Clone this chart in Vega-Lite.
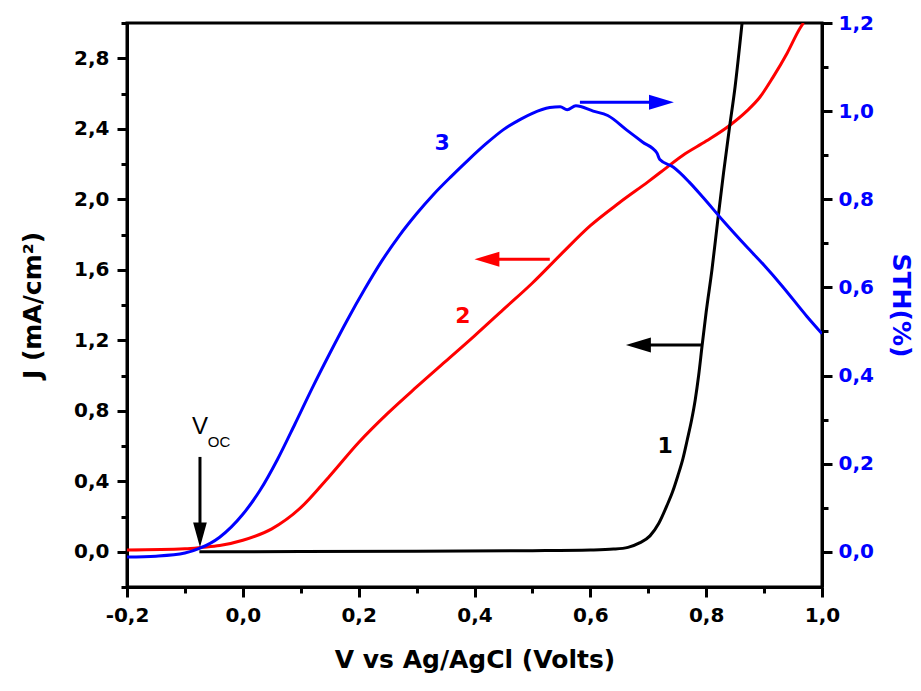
{
  "$schema": "https://vega.github.io/schema/vega-lite/v6.json",
  "autosize": {"type": "none"},
  "width": 695,
  "height": 564,
  "padding": {"left": 127, "top": 23, "right": 99, "bottom": 104},
  "background": "white",
  "config": {
    "view": {"stroke": "black", "strokeWidth": 3},
    "axis": {
      "domainColor": "black", "domainWidth": 3, "tickColor": "black", "tickWidth": 3,
      "grid": false, "labelFont": "DejaVu Sans", "labelFontWeight": "bold", "labelFontSize": 20,
      "titleFont": "DejaVu Sans", "titleFontWeight": "bold", "titleFontSize": 25, "labelColor": "black", "titleColor": "black"
    }
  },
  "datasets": {
    "red": [
      {"V": -0.2, "J": 0.01}, {"V": -0.1, "J": 0.017}, {"V": -0.07, "J": 0.025}, {"V": -0.04, "J": 0.035},
      {"V": 0.0, "J": 0.065}, {"V": 0.05, "J": 0.13}, {"V": 0.1, "J": 0.25}, {"V": 0.15, "J": 0.43},
      {"V": 0.2, "J": 0.62}, {"V": 0.25, "J": 0.785}, {"V": 0.3, "J": 0.935}, {"V": 0.35, "J": 1.08},
      {"V": 0.4, "J": 1.225}, {"V": 0.45, "J": 1.375}, {"V": 0.5, "J": 1.525}, {"V": 0.55, "J": 1.69},
      {"V": 0.6, "J": 1.85}, {"V": 0.65, "J": 1.98},
      {"V": 0.7, "J": 2.1}, {"V": 0.72, "J": 2.15}, {"V": 0.76, "J": 2.25}, {"V": 0.8, "J": 2.33},
      {"V": 0.841, "J": 2.42}, {"V": 0.87, "J": 2.5}, {"V": 0.893, "J": 2.58}, {"V": 0.915, "J": 2.69},
      {"V": 0.94, "J": 2.83}, {"V": 0.962, "J": 2.97}, {"V": 0.968, "J": 3.0}
    ],
    "black": [
      {"V": -0.075, "J": 0}, {"V": 0.1, "J": 0.001}, {"V": 0.3, "J": 0.003}, {"V": 0.5, "J": 0.006},
      {"V": 0.6, "J": 0.01}, {"V": 0.64, "J": 0.015}, {"V": 0.665, "J": 0.025}, {"V": 0.685, "J": 0.05},
      {"V": 0.703, "J": 0.09}, {"V": 0.718, "J": 0.16}, {"V": 0.732, "J": 0.26}, {"V": 0.742, "J": 0.34},
      {"V": 0.751, "J": 0.43}, {"V": 0.76, "J": 0.53}, {"V": 0.767, "J": 0.63}, {"V": 0.775, "J": 0.75},
      {"V": 0.781, "J": 0.86}, {"V": 0.787, "J": 1.0}, {"V": 0.793, "J": 1.17}, {"V": 0.8, "J": 1.36},
      {"V": 0.81, "J": 1.6}, {"V": 0.82, "J": 1.88}, {"V": 0.83, "J": 2.15}, {"V": 0.84, "J": 2.4},
      {"V": 0.85, "J": 2.64}, {"V": 0.862, "J": 3.0}
    ],
    "blue": [
      {"V": -0.2, "S": -0.012}, {"V": -0.15, "S": -0.01}, {"V": -0.1, "S": -0.003}, {"V": -0.074, "S": 0.008},
      {"V": -0.04, "S": 0.033}, {"V": 0.0, "S": 0.085}, {"V": 0.03, "S": 0.14}, {"V": 0.06, "S": 0.21},
      {"V": 0.09, "S": 0.29}, {"V": 0.12, "S": 0.372}, {"V": 0.15, "S": 0.45}, {"V": 0.18, "S": 0.525},
      {"V": 0.21, "S": 0.595}, {"V": 0.24, "S": 0.66}, {"V": 0.27, "S": 0.717}, {"V": 0.3, "S": 0.767},
      {"V": 0.33, "S": 0.812}, {"V": 0.36, "S": 0.852}, {"V": 0.39, "S": 0.89}, {"V": 0.42, "S": 0.926},
      {"V": 0.45, "S": 0.958}, {"V": 0.48, "S": 0.982}, {"V": 0.5, "S": 0.995},
      {"V": 0.53, "S": 1.008}, {"V": 0.548, "S": 1.01}, {"V": 0.56, "S": 1.003}, {"V": 0.575, "S": 1.012},
      {"V": 0.605, "S": 1.0}, {"V": 0.63, "S": 0.99}, {"V": 0.663, "S": 0.957}, {"V": 0.69, "S": 0.93},
      {"V": 0.715, "S": 0.905}, {"V": 0.72, "S": 0.89}, {"V": 0.743, "S": 0.873}, {"V": 0.77, "S": 0.84},
      {"V": 0.794, "S": 0.805}, {"V": 0.83, "S": 0.75}, {"V": 0.87, "S": 0.692}, {"V": 0.9, "S": 0.65},
      {"V": 0.93, "S": 0.605}, {"V": 0.974, "S": 0.534}, {"V": 1.0, "S": 0.495}
    ],
    "arrows": [
      {"curve": "1", "end": "tail", "V": 0.791, "J": 1.173}, {"curve": "1", "end": "head", "V": 0.683, "J": 1.173},
      {"curve": "2", "end": "tail", "V": 0.53, "J": 1.66}, {"curve": "2", "end": "head", "V": 0.4215, "J": 1.66},
      {"curve": "3", "end": "tail", "V": 0.582, "J": 2.55}, {"curve": "3", "end": "head", "V": 0.7228, "J": 2.55},
      {"curve": "Voc", "end": "tail", "V": -0.074, "J": 0.538}, {"curve": "Voc", "end": "head", "V": -0.074, "J": 0.096}
    ],
    "labels": [
      {"curve": "1", "text": "1", "V": 0.729, "J": 0.6},
      {"curve": "2", "text": "2", "V": 0.38, "J": 1.337},
      {"curve": "3", "text": "3", "V": 0.344, "J": 2.32}
    ]
  },
  "layer": [
    {
      "encoding": {
        "x": {
          "field": "V", "type": "quantitative",
          "scale": {"domain": [-0.2, 1.0], "nice": false, "zero": false},
          "axis": {
            "title": "V vs Ag/AgCl (Volts)", "orient": "bottom",
            "values": [-0.2, -0.1, 0, 0.1, 0.2, 0.3, 0.4, 0.5, 0.6, 0.7, 0.8, 0.9, 1.0],
            "format": ".1f",
            "labelExpr": "round(datum.value*10)%2==0 ? replace(replace(datum.label,'.',','),'\u2212','-') : ''",
            "tickSize": {"condition": {"test": "round(datum.value*10)%2==0", "value": 10}, "value": 6},
            "labelPadding": 8, "titlePadding": 22, "labelFlush": false, "labelOverlap": false
          }
        },
        "y": {
          "field": "J", "type": "quantitative",
          "scale": {"domain": [-0.2, 3.0], "nice": false, "zero": false},
          "axis": {
            "title": "J (mA/cm\u00b2)", "orient": "left",
            "values": [-0.2, 0, 0.2, 0.4, 0.6, 0.8, 1.0, 1.2, 1.4, 1.6, 1.8, 2.0, 2.2, 2.4, 2.6, 2.8, 3.0],
            "format": ".1f",
            "labelExpr": "round(datum.value*10)%4==0 ? replace(datum.label,'.',',') : ''",
            "tickSize": {"condition": {"test": "round(datum.value*10)%4==0", "value": 10}, "value": 6},
            "labelPadding": 8, "titlePadding": 28, "labelOverlap": false, "labelFlush": false
          }
        }
      },
      "layer": [
        {"data": {"name": "red"}, "mark": {"type": "line", "color": "#ff0000", "strokeWidth": 3, "clip": true, "interpolate": "monotone"}},
        {"data": {"name": "black"}, "mark": {"type": "line", "color": "#000000", "strokeWidth": 3, "clip": true, "interpolate": "monotone"}},
        {
          "data": {"name": "arrows"},
          "mark": {"type": "line", "strokeWidth": 3},
          "encoding": {
            "detail": {"field": "curve"},
            "color": {"field": "curve", "scale": {"domain": ["1", "2", "3", "Voc"], "range": ["#000000", "#ff0000", "#0000ff", "#000000"]}, "legend": null}
          }
        },
        {
          "data": {"name": "arrows"},
          "transform": [{"filter": "datum.end == 'head'"}],
          "mark": {"type": "point", "filled": true, "size": 620, "opacity": 1, "strokeWidth": 0},
          "encoding": {
            "color": {"field": "curve", "scale": {"domain": ["1", "2", "3", "Voc"], "range": ["#000000", "#ff0000", "#0000ff", "#000000"]}, "legend": null},
            "shape": {"field": "curve", "scale": {"domain": ["1", "2", "3", "Voc"], "range": ["M-1,0L1,-0.6L1,0.6Z", "M-1,0L1,-0.6L1,0.6Z", "M1,0L-1,-0.6L-1,0.6Z", "M0,1L-0.55,-1L0.55,-1Z"]}, "legend": null}
          }
        },
        {
          "data": {"name": "labels"},
          "mark": {"type": "text", "font": "DejaVu Sans", "fontWeight": "bold", "fontSize": 22, "align": "center", "baseline": "middle"},
          "encoding": {
            "text": {"field": "text"},
            "color": {"field": "curve", "scale": {"domain": ["1", "2", "3", "Voc"], "range": ["#000000", "#ff0000", "#0000ff", "#000000"]}, "legend": null}
          }
        },
        {
          "data": {"values": [{"V": -0.074, "J": 0.708, "t": "V"}]},
          "mark": {"type": "text", "font": "Liberation Sans", "fontSize": 24, "align": "center", "baseline": "middle", "color": "black"},
          "encoding": {"text": {"field": "t"}}
        },
        {
          "data": {"values": [{"V": -0.041, "J": 0.623, "t": "OC"}]},
          "mark": {"type": "text", "font": "Liberation Sans", "fontSize": 15, "align": "center", "baseline": "middle", "color": "black"},
          "encoding": {"text": {"field": "t"}}
        }
      ]
    },
    {
      "data": {"name": "blue"},
      "mark": {"type": "line", "color": "#0000ff", "strokeWidth": 3, "clip": true, "interpolate": "monotone"},
      "encoding": {
        "x": {"field": "V", "type": "quantitative", "scale": {"domain": [-0.2, 1.0], "nice": false, "zero": false}},
        "y": {
          "field": "S", "type": "quantitative",
          "scale": {"domain": [-0.08, 1.2], "nice": false, "zero": false},
          "axis": {
            "title": "STH(%)", "orient": "right", "titleColor": "#0000ff", "labelColor": "#0000ff",
            "values": [0, 0.1, 0.2, 0.3, 0.4, 0.5, 0.6, 0.7, 0.8, 0.9, 1.0, 1.1, 1.2],
            "format": ".1f",
            "labelExpr": "round(datum.value*10)%2==0 ? replace(datum.label,'.',',') : ''",
            "tickSize": {"condition": {"test": "round(datum.value*10)%2==0", "value": 10}, "value": 6},
            "labelPadding": 6, "titlePadding": 14, "labelOverlap": false, "labelFlush": false
          }
        }
      }
    }
  ],
  "resolve": {"scale": {"y": "independent"}}
}
